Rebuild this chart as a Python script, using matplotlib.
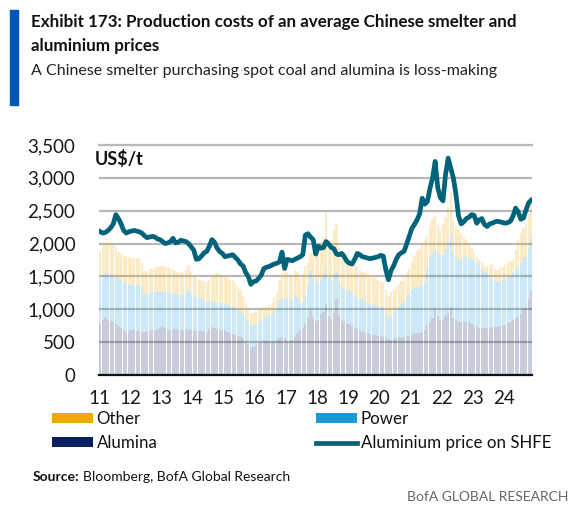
import numpy as np
import matplotlib
matplotlib.use("Agg")
import matplotlib.pyplot as plt
from matplotlib.patches import Patch, Rectangle
from matplotlib.lines import Line2D

plt.rcParams['font.family'] = ['Lato', 'DejaVu Sans']

# ---------------- data (monthly, Jan 2011 - Nov 2024) ----------------
start_year = 2011
# Aluminium price on SHFE, US$/t
price = [
    2180, 2160, 2170, 2200, 2240, 2300, 2440, 2380, 2300, 2200, 2160, 2180,  # 2011
    2190, 2200, 2190, 2180, 2160, 2120, 2090, 2100, 2110, 2100, 2070, 2060,  # 2012
    2030, 2000, 2010, 2030, 2080, 2010, 2020, 2050, 2040, 2030, 2000, 1950,  # 2013
    1900, 1760, 1770, 1810, 1860, 1880, 1960, 2060, 2020, 1930, 1880, 1850,  # 2014
    1800, 1810, 1820, 1830, 1790, 1750, 1690, 1660, 1560, 1500, 1380, 1420,  # 2015
    1430, 1470, 1520, 1620, 1640, 1650, 1670, 1690, 1700, 1720, 1870, 1620,  # 2016
    1760, 1750, 1740, 1760, 1780, 1800, 1830, 2130, 2150, 2100, 2060, 1840,  # 2017
    1960, 1930, 1940, 2030, 1990, 1940, 1920, 1840, 1830, 1850, 1800, 1730,  # 2018
    1700, 1690, 1760, 1850, 1830, 1800, 1790, 1780, 1770, 1780, 1790, 1800,  # 2019
    1820, 1810, 1600, 1450, 1590, 1660, 1760, 1830, 1860, 1880, 1990, 2110,  # 2020
    2230, 2290, 2360, 2450, 2690, 2600, 2640, 2840, 3000, 3250, 2850, 2700,  # 2021
    2650, 3050, 3300, 3150, 3000, 2750, 2420, 2300, 2330, 2380, 2400, 2440,  # 2022
    2430, 2310, 2360, 2380, 2290, 2260, 2300, 2310, 2330, 2340, 2330, 2320,  # 2023
    2310, 2320, 2340, 2420, 2540, 2480, 2370, 2390, 2510, 2620, 2660,        # 2024
]
# Cost levels (cumulative tops), US$/t
alumina_top = [
    780, 840, 860, 840, 820, 800, 770, 740, 710, 680, 660, 670,
    680, 685, 675, 665, 660, 660, 665, 675, 685, 690, 700, 720,
    735, 720, 690, 685, 690, 695, 690, 685, 685, 690, 705, 700,
    690, 675, 670, 670, 665, 660, 700, 730, 720, 700, 690, 685,
    680, 660, 640, 630, 610, 595, 585, 560, 520, 470, 430, 425,
    450, 480, 500, 515, 525, 515, 505, 515, 535, 560, 585, 560,
    520, 510, 540, 585, 640, 680, 710, 780, 860, 980, 880, 820,
    840, 930, 960, 1080, 900, 850, 950, 1150, 900, 840, 810, 790,
    780, 750, 720, 700, 675, 660, 645, 635, 625, 615, 610, 600,
    590, 585, 570, 545, 535, 550, 560, 575, 584, 584, 590, 600,
    620, 634, 634, 640, 650, 680, 760, 800, 860, 1000, 900, 840,
    838, 900, 950, 1020, 870, 850, 812, 812, 812, 812, 800, 780,
    761, 740, 720, 712, 710, 710, 720, 736, 736, 736, 740, 755,
    761, 785, 812, 830, 860, 888, 930, 1000, 1015, 1150, 1294,
]
power_top = [
    1460, 1520, 1550, 1540, 1520, 1510, 1490, 1470, 1440, 1410, 1390, 1380,
    1370, 1370, 1375, 1370, 1340, 1230, 1230, 1250, 1265, 1270, 1275, 1270,
    1270, 1270, 1260, 1250, 1235, 1230, 1225, 1220, 1218, 1250, 1310, 1250,
    1200, 1190, 1170, 1150, 1130, 1117, 1130, 1117, 1110, 1100, 1095, 1090,
    1080, 1060, 1050, 1040, 1020, 990, 965, 920, 860, 820, 760, 740,
    780, 810, 840, 870, 890, 910, 935, 980, 1040, 1120, 1150, 1165,
    1160, 1145, 1150, 1230, 1190, 1100, 1120, 1190, 1350, 1580, 1480, 1450,
    1400, 1440, 1500, 1640, 1480, 1450, 1500, 1550, 1380, 1340, 1310, 1290,
    1280, 1240, 1200, 1180, 1150, 1140, 1110, 1090, 1080, 1070, 1066, 1050,
    1030, 1015, 960, 890, 900, 960, 990, 1040, 1080, 1120, 1180, 1220,
    1300, 1345, 1345, 1345, 1380, 1420, 1650, 1800, 1860, 1904, 1860, 1830,
    1830, 1900, 1990, 2150, 1860, 1800, 1751, 1760, 1790, 1802, 1790, 1760,
    1751, 1720, 1680, 1620, 1560, 1548, 1500, 1460, 1435, 1421, 1430, 1445,
    1460, 1470, 1500, 1548, 1600, 1650, 1700, 1780, 1802, 1950, 2107,
]
total_top = [
    1880, 1960, 2010, 2030, 2020, 1990, 1950, 1870, 1840, 1810, 1800, 1790,
    1780, 1780, 1780, 1770, 1700, 1590, 1590, 1610, 1625, 1640, 1650, 1660,
    1660, 1650, 1640, 1630, 1610, 1580, 1575, 1560, 1550, 1600, 1670, 1560,
    1500, 1490, 1460, 1440, 1425, 1420, 1440, 1520, 1540, 1550, 1520, 1500,
    1490, 1470, 1450, 1440, 1400, 1350, 1300, 1200, 1100, 1000, 950, 940,
    960, 985, 1000, 1020, 1040, 1060, 1090, 1180, 1250, 1450, 1550, 1570,
    1560, 1520, 1500, 1600, 1560, 1460, 1540, 1660, 1700, 1850, 1880, 1900,
    1860, 2000, 2100, 2460, 2050, 2050, 2200, 2300, 1950, 1880, 1810, 1770,
    1760, 1720, 1670, 1640, 1600, 1575, 1555, 1548, 1520, 1490, 1472, 1450,
    1430, 1420, 1300, 1200, 1260, 1300, 1340, 1390, 1430, 1480, 1560, 1620,
    1720, 1810, 1880, 1920, 1990, 2050, 2110, 2280, 2380, 2436, 2280, 2220,
    2300, 2400, 2550, 2780, 2380, 2250, 2208, 2140, 2107, 2050, 2005, 1930,
    1853, 1800, 1751, 1720, 1660, 1650, 1680, 1690, 1620, 1599, 1630, 1650,
    1680, 1700, 1730, 1751, 1900, 2056, 2157, 2230, 2310, 2450, 2630,
]
year_labels = ['11', '12', '13', '14', '15', '16', '17', '18', '19', '20', '21', '22', '23', '24']
y_ticks = [0, 500, 1000, 1500, 2000, 2500, 3000, 3500]

# ---------------- derived ----------------
n = len(price)
x = start_year + (np.arange(n) + 0.5) / 12.0
alumina = np.array(alumina_top, float)
power = np.array(power_top, float) - alumina
other = np.array(total_top, float) - np.array(power_top, float)

C_OTHER = '#F0A800'
C_POWER = '#1C9AD6'
C_ALUMINA = '#0B1F5E'
C_LINE = '#006379'
ALPHA = 0.22

W, H = 575, 509
fig = plt.figure(figsize=(W / 100, H / 100), dpi=100)
ax = fig.add_axes([99 / W, 1 - 375 / H, 433 / W, 230 / H])

w = 1 / 12 * 0.85
ax.bar(x, alumina, width=w, color=C_ALUMINA, alpha=ALPHA, linewidth=0, zorder=2)
ax.bar(x, power, width=w, bottom=alumina, color=C_POWER, alpha=ALPHA, linewidth=0, zorder=2)
ax.bar(x, other, width=w, bottom=alumina + power, color=C_OTHER, alpha=ALPHA, linewidth=0, zorder=2)
ax.plot(x, price, color=C_LINE, lw=3.4, zorder=4, solid_joinstyle='round')

ax.set_xlim(start_year, start_year + 13.9)
ax.set_ylim(0, 3500)
ax.set_yticks(y_ticks)
ax.set_yticklabels([f'{v:,}' for v in y_ticks])
ax.set_xticks([start_year + i for i in range(len(year_labels))])
ax.set_xticklabels(year_labels)
ax.tick_params(axis='both', length=0, labelsize=13.5, colors='#1a1a1a')
ax.tick_params(axis='y', pad=17)
ax.tick_params(axis='x', pad=11)
ax.yaxis.grid(True, color='#b8b8b8', lw=1.6, zorder=1)
ax.set_axisbelow(True)
for s in ['left', 'right', 'top']:
    ax.spines[s].set_visible(False)
ax.spines['bottom'].set_color('#111111')
ax.spines['bottom'].set_linewidth(1.6)
ax.spines['bottom'].set_zorder(5)
ax.axhline(3500, color='#b8b8b8', lw=1.6, zorder=1, clip_on=False)

ax.text(-0.01, 0.94, 'US$/t', transform=ax.transAxes, fontsize=13, fontweight='bold',
        ha='left', va='center', color='#111111')

fig.canvas.draw()
renderer = fig.canvas.get_renderer()


def fit(t, target_px, max_fs=None):
    bb = t.get_window_extent(renderer)
    fs = t.get_fontsize() * target_px / bb.width
    if max_fs is not None:
        fs = min(fs, max_fs)
    t.set_fontsize(fs)
    return t


# ---------------- header ----------------
fig.patches.append(Rectangle((10 / W, 1 - 105 / H), 8 / W, 95 / H,
                             transform=fig.transFigure, color='#0055B8', zorder=1))
t1 = fig.text(31 / W, 1 - 22 / H, 'Exhibit 173: Production costs of an average Chinese smelter and',
              fontsize=13, fontweight='bold', ha='left', va='center', color='#111111')
fit(t1, 485)
t2 = fig.text(31 / W, 1 - 46 / H, 'aluminium prices', fontsize=t1.get_fontsize(),
              fontweight='bold', ha='left', va='center', color='#111111')
t3 = fig.text(31 / W, 1 - 71 / H, 'A Chinese smelter purchasing spot coal and alumina is loss-making',
              fontsize=13, ha='left', va='center', color='#222222')
fit(t3, 467)

# ---------------- legends ----------------
fig.canvas.draw()
probe = fig.text(0, 0, 'Aluminium price on SHFE', fontsize=13)
fit(probe, 189)
leg_fs = probe.get_fontsize()
probe.remove()

h1 = [Patch(facecolor=C_OTHER, edgecolor='none'), Patch(facecolor=C_ALUMINA, edgecolor='none')]
h2 = [Patch(facecolor=C_POWER, edgecolor='none'), Line2D([], [], color=C_LINE, lw=3.4)]
kw = dict(frameon=False, fontsize=leg_fs, handlelength=41 / (leg_fs * 100 / 72),
          handleheight=0.55, handletextpad=0.22, labelspacing=0.48, borderpad=0,
          borderaxespad=0, loc='upper left')
leg1 = fig.legend(h1, ['Other', 'Alumina'], bbox_to_anchor=(52 / W, 1 - 411 / H), **kw)
leg2 = fig.legend(h2, ['Power', 'Aluminium price on SHFE'], bbox_to_anchor=(316 / W, 1 - 411 / H), **kw)
for lg in (leg1, leg2):
    for t in lg.get_texts():
        t.set_color('#111111')

# ---------------- footer ----------------
t_src = fig.text(33 / W, 1 - 477 / H, 'Source:', fontsize=10, fontweight='bold',
                 ha='left', va='center', color='#111111')
fig.canvas.draw()
bb = t_src.get_window_extent(renderer)
fig.text((bb.x1 + 3) / W, 1 - 477 / H, 'Bloomberg, BofA Global Research', fontsize=10,
         ha='left', va='center', color='#111111')
fig.text(568 / W, 1 - 497 / H, 'BofA GLOBAL RESEARCH', fontsize=10,
         ha='right', va='center', color='#666666')

fig.savefig('out.png', dpi=100)
